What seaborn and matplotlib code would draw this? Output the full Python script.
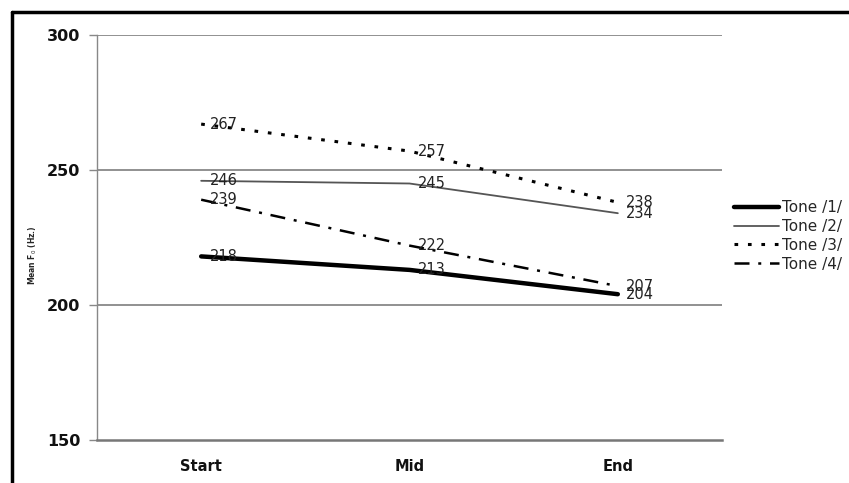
import matplotlib
matplotlib.use("Agg")
import matplotlib.pyplot as plt
import seaborn as sns
import pandas as pd
from matplotlib.lines import Line2D

positions = ["Start", "Mid", "End"]
tones = ["Tone /1/", "Tone /2/", "Tone /3/", "Tone /4/"]
tone1 = [218, 213, 204]
tone2 = [246, 245, 234]
tone3 = [267, 257, 238]
tone4 = [239, 222, 207]
yticks = [150, 200, 250, 300]

sns.set_theme(style="white")
plt.rcParams['font.family'] = ['DejaVu Sans']

rows = []
for t, vals in zip(tones, [tone1, tone2, tone3, tone4]):
    for p, v in zip(positions, vals):
        rows.append({"Position": p, "Tone": t, "F0": v})
df = pd.DataFrame(rows)

styles = {
    "Tone /1/": dict(color="black", lw=3.2, ls="-"),
    "Tone /2/": dict(color="#555555", lw=1.3, ls="-"),
    "Tone /3/": dict(color="black", lw=2.2, ls=(0, (1.2, 3.2))),
    "Tone /4/": dict(color="black", lw=1.8, ls=(0, (6, 3.5, 1.2, 3.5))),
}

fig = plt.figure(figsize=(8.49, 4.83), dpi=100)
ax = fig.add_axes([97/849, 1-440/483, (722-97)/849, (440-35)/483])

for t in tones:
    sub = df[df["Tone"] == t]
    st = styles[t]
    sns.lineplot(data=sub, x="Position", y="F0", ax=ax, color=st["color"],
                 linewidth=st["lw"], linestyle=st["ls"], label=t, sort=False)
    for i, (p, v) in enumerate(zip(sub["Position"], sub["F0"])):
        ax.text(i + 0.04, v, str(v), fontsize=10.5, color="#222222",
                ha="left", va="center")

ax.set_xlim(-0.5, 2.5)
ax.set_ylim(150, 300)
ax.set_yticks(yticks)
ax.set_yticklabels([str(y) for y in yticks], fontweight="bold", fontsize=11.5,
                   color="#111111")
ax.set_xticks([0, 1, 2])
ax.set_xticklabels(positions, fontweight="bold", fontsize=10.5, color="#111111")
ax.set_xticks([-0.5, 0.5, 1.5, 2.5], minor=True)
ax.tick_params(axis="x", which="major", length=0, pad=14)
ax.tick_params(axis="x", which="minor", length=4, width=1, color="#333333", direction="out")
ax.tick_params(axis="y", which="major", length=6, width=1, color="#888888", direction="out", pad=6, left=True)
ax.set_xlabel("")
ax.set_ylabel("")

for y in [200, 250, 300]:
    ax.axhline(y, color="#888888", lw=1.3, zorder=0)

for s in ["top", "right"]:
    ax.spines[s].set_visible(False)
ax.spines["left"].set_color("#888888")
ax.spines["left"].set_linewidth(1.0)
ax.spines["bottom"].set_color("#777777")
ax.spines["bottom"].set_linewidth(1.8)

fig.text(33/849, 1-255/483, "Mean F$_0$ (Hz.)", rotation=90, fontsize=5.5,
         fontweight="bold", ha="center", va="center")

handles = [Line2D([0], [0], color=styles[t]["color"], lw=styles[t]["lw"],
                  ls=styles[t]["ls"]) for t in tones]
ax.legend(handles, tones, loc="center left", bbox_to_anchor=(1.0, 0.504),
          frameon=False, fontsize=11, handlelength=2.9, handletextpad=0.2,
          labelspacing=0.25, borderaxespad=0.6, borderpad=0.2)

fig.add_artist(Line2D([12/849, 12/849], [0, 1-12/483], color="black", lw=2.5,
                      transform=fig.transFigure))
fig.add_artist(Line2D([12/849, 1], [1-12/483, 1-12/483], color="black", lw=2.5,
                      transform=fig.transFigure))

fig.savefig("out.png", dpi=100, facecolor="white")
